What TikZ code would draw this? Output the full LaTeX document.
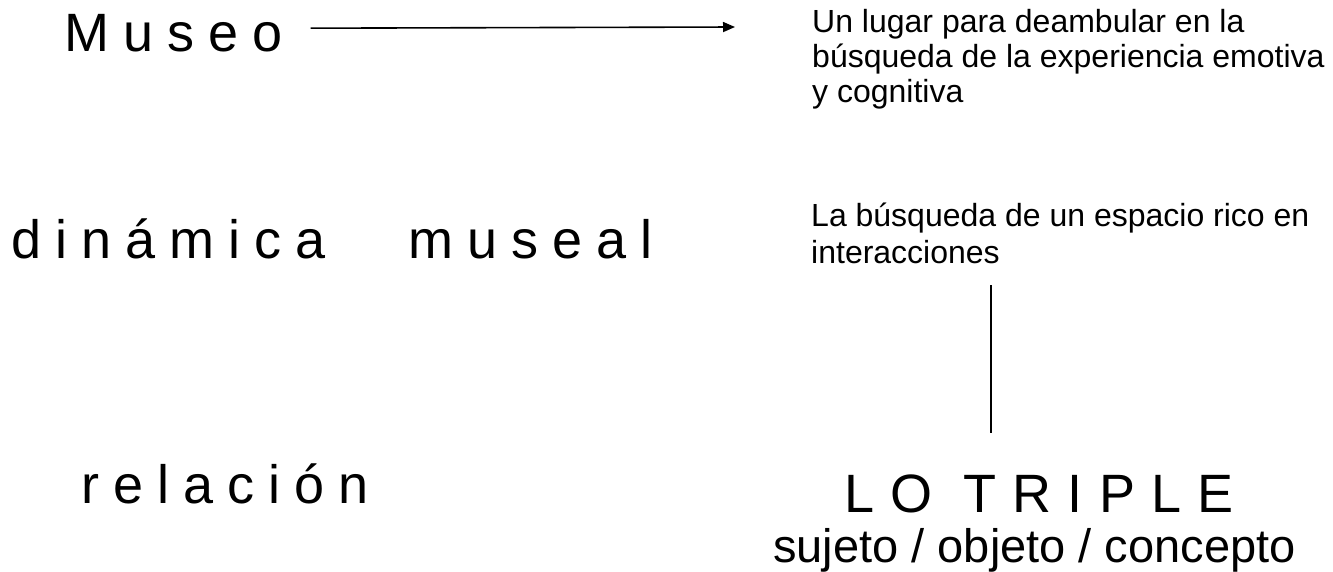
\documentclass[tikz,border=0pt]{standalone}
\usepackage{fontspec}
\setmainfont{Liberation Sans}
\usetikzlibrary{arrows.meta}
\begin{document}
\begin{tikzpicture}[x=1pt,y=-1pt,
  big/.style={font=\fontsize{54}{60}\selectfont\addfontfeature{LetterSpace=26}, inner sep=0pt, anchor=base west},
  small/.style={font=\fontsize{32}{35}\selectfont, inner sep=0pt, anchor=base west, align=left},
  sub/.style={font=\fontsize{47}{50}\selectfont, inner sep=0pt, anchor=base west},
  conn/.style={line width=1.6pt, black}]
\useasboundingbox (0,0) rectangle (1333,571);
\node[big] (museo) at (64,51) {Museo};
\node[small] (lugar) at (812,102) {Un lugar para deambular en la\\búsqueda de la experiencia emotiva\\y cognitiva};
\node[big] (din) at (11,258) {dinámica\hspace{83pt}museal};
\node[small, font=\fontsize{32}{37}\selectfont] (busq) at (811,263) {La búsqueda de un espacio rico en\\interacciones};
\node[big] (rel) at (81.5,503) {relación};
\node[big, font=\fontsize{54}{60}\selectfont\addfontfeature{LetterSpace=30}] (triple) at (844,512) {LO TRIPLE};
\node[sub] (suj) at (773,562) {sujeto / objeto / concepto};
\coordinate (arrowend) at (735,27);
\coordinate (ltop) at (991,285);
\coordinate (lbot) at (991,433);
\draw[conn, -{Triangle[length=12pt,width=10pt]}] ([xshift=28pt,yshift=4.5pt]museo.east) -- (arrowend);
\draw[conn] (ltop) -- (lbot);
\end{tikzpicture}
\end{document}
